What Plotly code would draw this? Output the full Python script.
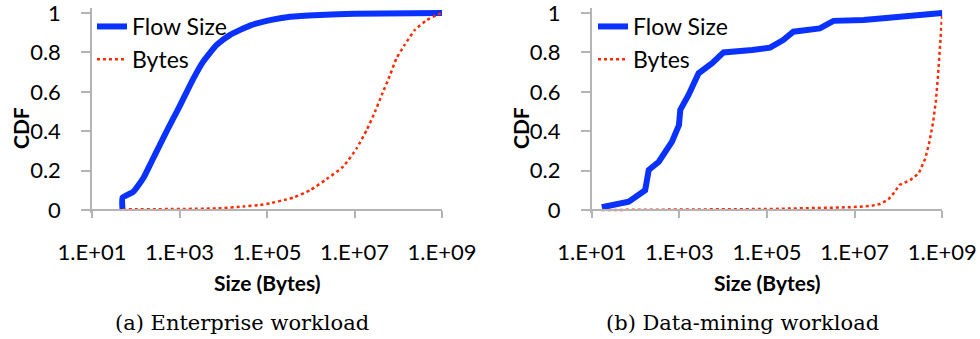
import plotly.graph_objects as go

# ---------------- data ----------------
tick_vals_x = [1e1, 1e3, 1e5, 1e7, 1e9]
tick_text_x = ["1.E+01", "1.E+03", "1.E+05", "1.E+07", "1.E+09"]
tick_vals_y = [0, 0.2, 0.4, 0.6, 0.8, 1.0]
tick_text_y = ["0", "0.2", "0.4", "0.6", "0.8", "1"]

# (a) Enterprise workload
ent_flow_size = [50, 50, 88, 148, 229, 355, 550, 870, 1350, 2090, 3470, 7080, 14100,
                 40700, 117000, 339000, 1.6e6, 1e7, 1e9]
ent_flow_cdf = [0.0, 0.063, 0.093, 0.161, 0.245, 0.33, 0.415, 0.499, 0.584, 0.668,
                0.753, 0.838, 0.888, 0.936, 0.964, 0.981, 0.99, 0.996, 1.0]
ent_bytes_size = [50, 7080, 29000, 69000, 117000, 282000, 400000, 955000, 2.3e6, 5.5e6,
                  1.12e7, 1.9e7, 2.95e7, 4.2e7, 6.5e7, 9.1e7, 1.4e8, 2.4e8, 4.5e8,
                  7.6e8, 1e9]
ent_bytes_cdf = [0.003, 0.008, 0.018, 0.025, 0.034, 0.054, 0.063, 0.10, 0.157, 0.22,
                 0.313, 0.406, 0.499, 0.584, 0.685, 0.77, 0.838, 0.914, 0.964, 0.99, 1.0]

# (b) Data-mining workload
dm_flow_size = [17, 70, 166, 200, 340, 680, 980, 1050, 1620, 2750, 5600, 10200, 45700,
                117000, 234000, 400000, 1.6e6, 3.3e6, 1.6e7, 9.1e7, 1e9]
dm_flow_cdf = [0.014, 0.042, 0.10, 0.203, 0.245, 0.347, 0.431, 0.508, 0.584, 0.694,
               0.745, 0.80, 0.812, 0.824, 0.863, 0.905, 0.922, 0.96, 0.964, 0.981, 1.0]
dm_bytes_size = [17, 117000, 7.9e6, 2.2e7, 3.8e7, 5.9e7, 8.3e7, 1.05e8, 1.86e8, 2.9e8,
                 4.1e8, 5.1e8, 6.2e8, 7.1e8, 7.9e8, 8.7e8, 9.3e8, 9.8e8, 1e9]
dm_bytes_cdf = [0.0, 0.005, 0.014, 0.02, 0.03, 0.054, 0.093, 0.127, 0.152, 0.186,
                0.262, 0.347, 0.448, 0.55, 0.668, 0.787, 0.88, 0.94, 1.0]

series_names = ["Flow Size", "Bytes"]
captions = ["(a) Enterprise workload", "(b) Data-mining workload"]
x_title = "Size (Bytes)"
y_title = "CDF"

# ---------------- style ----------------
W, H = 980, 339
BLUE = "#0a32ff"
RED = "#ff2a00"
GRAY = "#b4b4b4"
FONT = "Lato"

def fx(p):
    return p / W

def fy(p):
    return 1 - p / H

fig = go.Figure()

panels = [
    dict(x0=92, x1=442, flow=(ent_flow_size, ent_flow_cdf), byt=(ent_bytes_size, ent_bytes_cdf),
         xa="x", ya="y", legend="legend", cap=captions[0], capx=242, cdfx=20, leg_x=92,
         shape="spline"),
    dict(x0=591.7, x1=942.3, flow=(dm_flow_size, dm_flow_cdf), byt=(dm_bytes_size, dm_bytes_cdf),
         xa="x2", ya="y2", legend="legend2", cap=captions[1], capx=742, cdfx=520, leg_x=593,
         shape="linear"),
]

y0_px, y1_px = 210, 13          # pixel of CDF 0 and CDF 1
per = (y0_px - y1_px)
ylo, yhi = -0.015, 1.025
dom_bottom = fy(y0_px + (0 - ylo) * per)
dom_top = fy(y1_px - (yhi - 1) * per)

annotations = []
for i, p in enumerate(panels):
    fig.add_trace(go.Scatter(x=p["flow"][0], y=p["flow"][1], mode="lines", name=series_names[0],
                             line=dict(color=BLUE, width=6, shape=p["shape"], smoothing=0.5),
                             xaxis=p["xa"], yaxis=p["ya"], legend=p["legend"]))
    fig.add_trace(go.Scatter(x=p["byt"][0], y=p["byt"][1], mode="lines", name=series_names[1],
                             line=dict(color=RED, width=2.5, dash="dot", shape=p["shape"], smoothing=0.5),
                             xaxis=p["xa"], yaxis=p["ya"], legend=p["legend"]))
    sfx = "" if i == 0 else "2"
    fig.update_layout(**{
        "xaxis" + sfx: dict(
            type="log", range=[1, 9], domain=[fx(p["x0"]), fx(p["x1"])],
            anchor="free", position=fy(y0_px), automargin=False,
            tickvals=tick_vals_x, ticktext=tick_text_x,
            showline=True, linecolor=GRAY, linewidth=1.5,
            ticks="outside", ticklen=7, tickcolor=GRAY, tickwidth=1.5,
            showgrid=False, zeroline=False, ticklabeloverflow="allow",
            tickfont=dict(family=FONT, size=22, color="black"),
            ticklabelstandoff=16,
        ),
        "yaxis" + sfx: dict(
            range=[ylo, yhi], domain=[dom_bottom, dom_top], anchor="x" + sfx,
            automargin=False, ticklabeloverflow="allow",
            tickvals=tick_vals_y, ticktext=tick_text_y,
            showline=True, linecolor=GRAY, linewidth=1.5,
            ticks="outside", ticklen=9, tickcolor=GRAY, tickwidth=1.5,
            showgrid=False, zeroline=False,
            tickfont=dict(family=FONT, size=22, color="black"),
            ticklabelstandoff=16,
        ),
        p["legend"]: dict(
            x=fx(p["leg_x"]), y=fy(5), xanchor="left", yanchor="top",
            bgcolor="rgba(0,0,0,0)", borderwidth=0,
            font=dict(family=FONT, size=23, color="black"),
            itemwidth=30, tracegroupgap=0,
        ),
    })
    annotations.append(dict(text="<b>" + x_title + "</b>", x=fx((p["x0"] + p["x1"]) / 2), y=fy(282),
                            xref="paper", yref="paper", showarrow=False, xanchor="center",
                            yanchor="middle", font=dict(family=FONT, size=21, color="black")))
    annotations.append(dict(text="<b>" + y_title + "</b>", x=fx(p["cdfx"]), y=fy(128), textangle=-90,
                            xref="paper", yref="paper", showarrow=False, xanchor="center",
                            yanchor="middle", font=dict(family=FONT, size=21, color="black")))
    annotations.append(dict(text=p["cap"], x=fx(p["capx"]), y=fy(323),
                            xref="paper", yref="paper", showarrow=False, xanchor="center",
                            yanchor="middle", font=dict(family="DejaVu Serif", size=21, color="black")))

fig.update_layout(
    template="none",
    width=W, height=H, margin=dict(l=0, r=0, t=0, b=0, autoexpand=False),
    paper_bgcolor="white", plot_bgcolor="white",
    showlegend=True, annotations=annotations,
)

fig.write_html("out.html")
